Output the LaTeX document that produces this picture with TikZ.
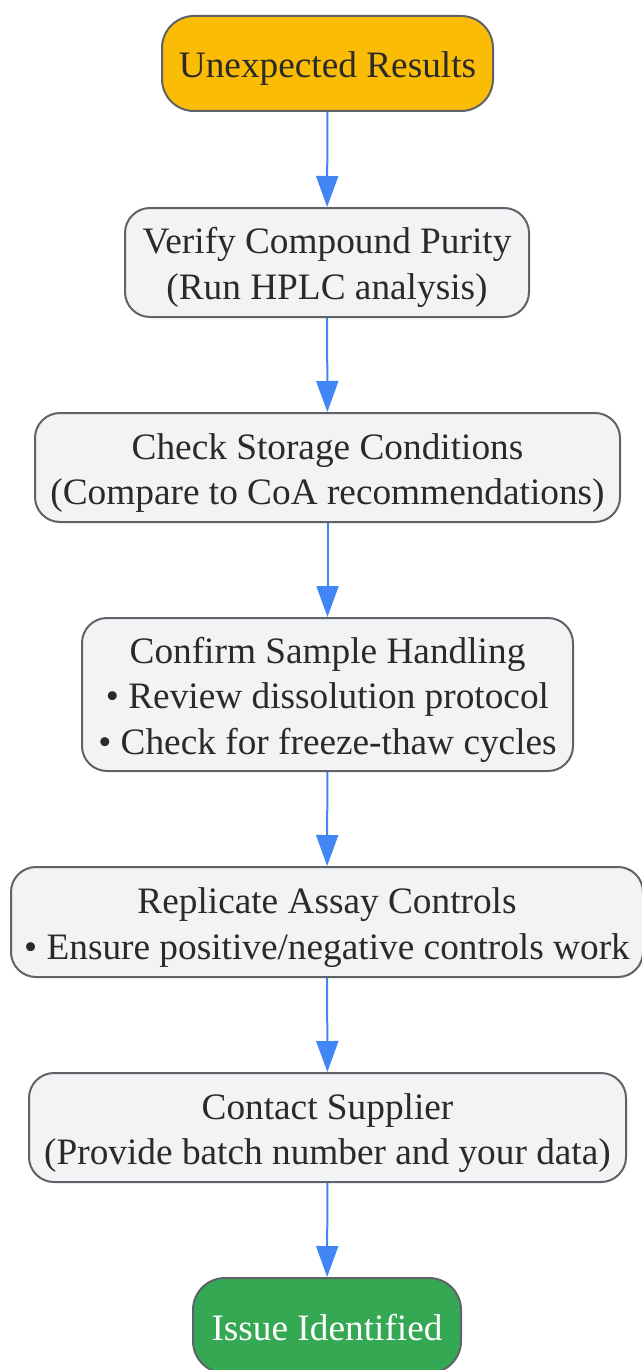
\documentclass[tikz,border=0pt]{standalone}
\usepackage{fontspec}
\setmainfont{Liberation Serif}
\usetikzlibrary{arrows.meta}
\definecolor{bordergray}{HTML}{5F6368}
\definecolor{boxgray}{HTML}{F1F3F4}
\definecolor{startorange}{HTML}{FBBC05}
\definecolor{endgreen}{HTML}{34A853}
\definecolor{arrowblue}{HTML}{4285F4}
\definecolor{textdark}{HTML}{2A2A2A}
\newcommand\lnstrut{\rule[-7.5pt]{0pt}{44pt}}
\begin{document}
\begin{tikzpicture}[x=1pt,y=-1pt,
  base/.style={draw=bordergray, line width=2pt, align=center, inner sep=0pt,
    font=\fontsize{37.3}{44}\selectfont, text=textdark},
  stepbox/.style={base, fill=boxgray, rounded corners=25pt},
  startbox/.style={base, fill=startorange, rounded corners=32pt},
  endbox/.style={base, fill=endgreen, rounded corners=32pt, text=white},
  flow/.style={draw=arrowblue, line width=2pt, -{Triangle[length=31pt,width=22pt]}}
]
\useasboundingbox (0,0) rectangle (642,1370);
\node[startbox, minimum width=331pt, minimum height=95pt] (b1) at (327.5,63.5) {\lnstrut Unexpected Results};
\node[stepbox, minimum width=404pt, minimum height=109pt] (b2) at (327,262.5) {\lnstrut Verify Compound Purity\\\lnstrut(Run HPLC analysis)};
\node[stepbox, minimum width=585pt, minimum height=109pt] (b3) at (327.5,467.5) {\lnstrut Check Storage Conditions\\\lnstrut(Compare to CoA recommendations)};
\node[stepbox, minimum width=491pt, minimum height=153pt] (b4) at (327.5,694.5) {\lnstrut Confirm Sample Handling\\\lnstrut\textbullet{} Review dissolution protocol\\\lnstrut\textbullet{} Check for freeze-thaw cycles};
\node[stepbox, minimum width=632pt, minimum height=110pt] (b5) at (327,922) {\lnstrut Replicate Assay Controls\\\lnstrut\textbullet{} Ensure positive/negative controls work};
\node[stepbox, minimum width=597pt, minimum height=109pt] (b6) at (327.5,1127.5) {\lnstrut Contact Supplier\\\lnstrut(Provide batch number and your data)};
\node[endbox, minimum width=268pt, minimum height=95pt] (b7) at (327,1325.5) {\lnstrut Issue Identified};
\draw[flow] (b1) -- (b2);
\draw[flow] (b2) -- (b3);
\draw[flow] (b3) -- (b4);
\draw[flow] (b4) -- (b5);
\draw[flow] (b5) -- (b6);
\draw[flow] (b6) -- (b7);
\end{tikzpicture}
\end{document}
